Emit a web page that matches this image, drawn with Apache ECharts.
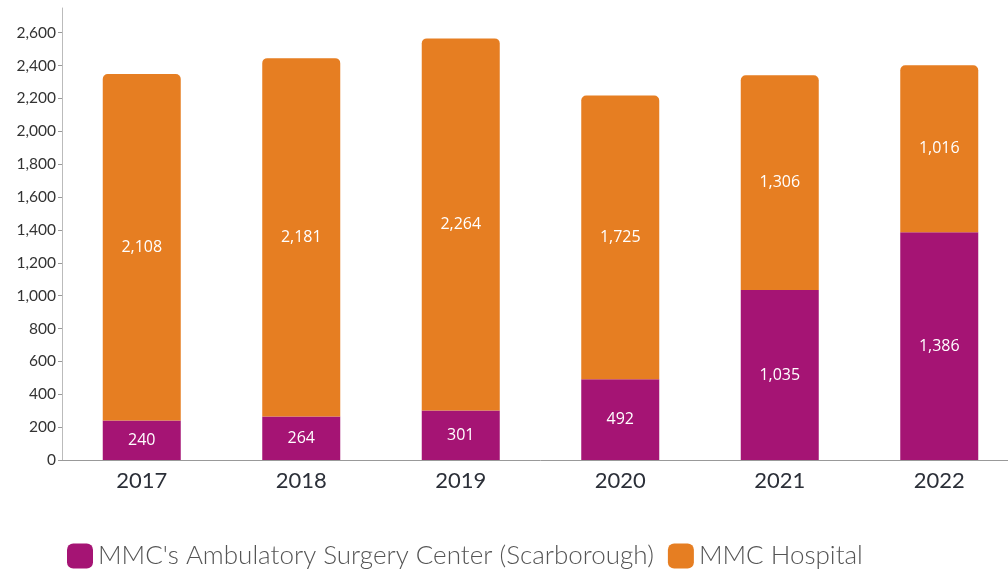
<!DOCTYPE html>
<html>
<head>
<meta charset="utf-8">
<script src="https://cdn.jsdelivr.net/npm/echarts@6/dist/echarts.min.js"></script>
<style>
  html, body { margin: 0; padding: 0; background: #fff; overflow: hidden; }
  /* the plot runs slightly past the right edge, as in the source image */
  #chart { width: 1020px; height: 571px; }
</style>
</head>
<body>
<div id="chart"></div>
<script>
const years = ['2017', '2018', '2019', '2020', '2021', '2022']
const ascValues = [240, 264, 301, 492, 1035, 1386]
const hospitalValues = [2108, 2181, 2264, 1725, 1306, 1016]
const seriesNames = ["MMC's Ambulatory Surgery Center (Scarborough)", 'MMC Hospital']

const fmt = v => v.toLocaleString('en-US')

const chart = echarts.init(document.getElementById('chart'))

const labelStyle = {
  show: true,
  position: 'inside',
  color: '#fff',
  fontFamily: 'Open Sans',
  fontSize: 16,
  formatter: p => fmt(p.value)
}

chart.setOption({
  animation: false,
  textStyle: { fontFamily: 'Lato' },
  grid: { left: 62, right: 1, top: 8, bottom: 111, containLabel: false },
  legend: {
    top: 538,
    left: 62,
    itemWidth: 26,
    itemHeight: 25,
    itemGap: 14,
    icon: 'roundRect',
    textStyle: { fontFamily: 'Lato', fontSize: 26, color: '#555', fontWeight: 300, padding: [0, 0, 0, 0] },
    data: seriesNames
  },
  xAxis: {
    type: 'category',
    data: years,
    axisLine: { lineStyle: { color: '#999' } },
    axisTick: { alignWithLabel: true, length: 4, lineStyle: { color: '#999' } },
    axisLabel: { fontSize: 22, color: '#2b2f38', margin: 10 }
  },
  yAxis: {
    type: 'value',
    min: 0,
    max: 2750,
    interval: 200,
    splitLine: { show: false },
    axisLine: { show: true, lineStyle: { color: '#bbb' } },
    axisTick: { show: true, length: 4, lineStyle: { color: '#999' } },
    axisLabel: { fontSize: 15.5, color: '#333', margin: 6, showMaxLabel: false, formatter: v => fmt(v) }
  },
  series: [
    {
      name: seriesNames[0],
      type: 'bar',
      stack: 'total',
      data: ascValues,
      barWidth: 78,
      itemStyle: { color: '#a51474' },
      label: labelStyle
    },
    {
      name: seriesNames[1],
      type: 'bar',
      stack: 'total',
      data: hospitalValues,
      barWidth: 78,
      itemStyle: { color: '#e67e22', borderRadius: [5, 5, 0, 0] },
      label: labelStyle
    }
  ]
})
</script>
</body>
</html>
